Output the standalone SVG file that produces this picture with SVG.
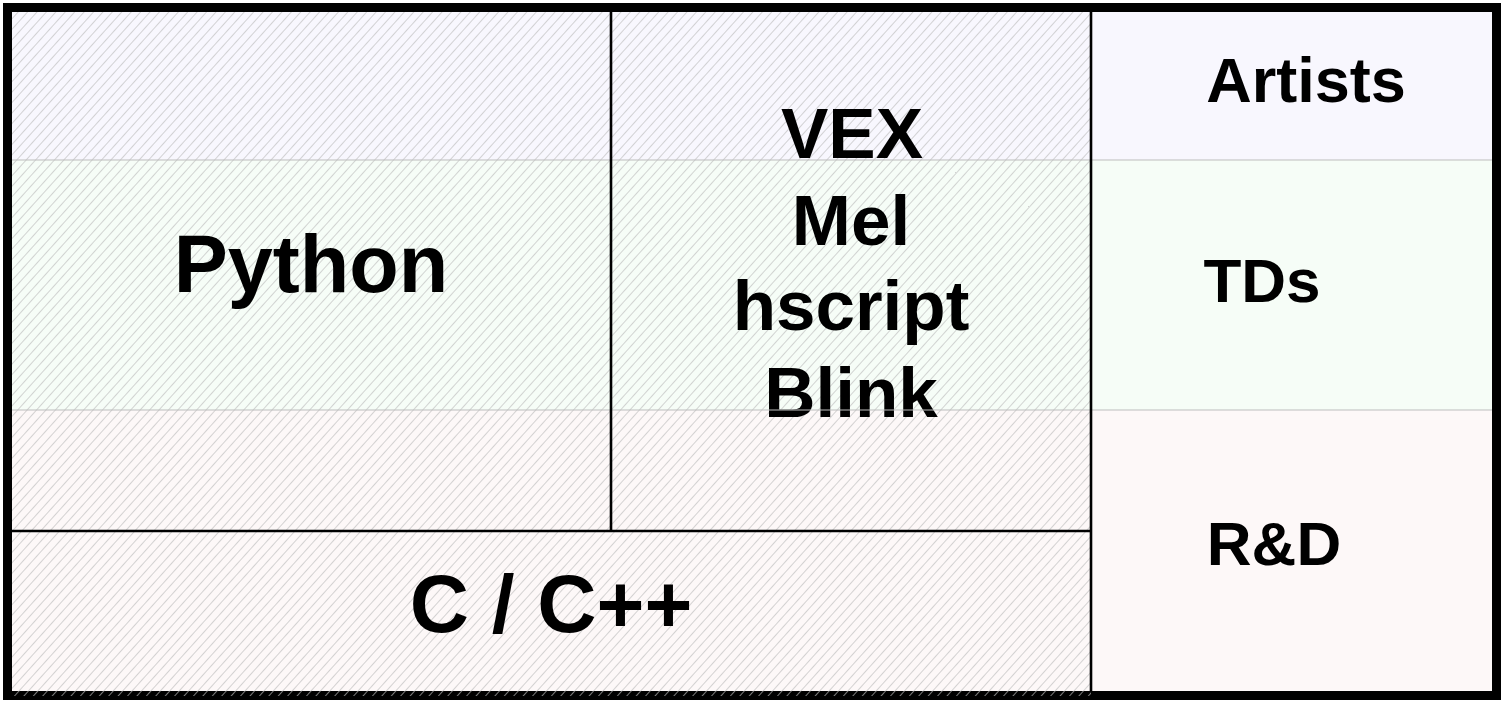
<svg xmlns="http://www.w3.org/2000/svg" width="1502" height="702" viewBox="0 0 1502 702">
<defs>
<pattern id="hatch" patternUnits="userSpaceOnUse" width="7" height="7" patternTransform="rotate(42)">
<line x1="0" y1="-1" x2="0" y2="8" stroke="#bdbdbd" stroke-width="1.3"/>
</pattern>
<style>
.lbl{font-family:"Liberation Sans",Arial,sans-serif;font-weight:bold;fill:#000;text-anchor:middle}
.band{stroke:#bdbdbd;stroke-width:1;fill:none}
.wall{stroke:#000;stroke-width:2.6;fill:none}
</style>
</defs>
<rect x="0" y="0" width="1502" height="702" fill="#fff"/>
<g id="bands">
<rect x="12" y="12" width="1480" height="148" fill="#f8f7fe"/>
<rect x="12" y="160" width="1480" height="250" fill="#f6fdf7"/>
<rect x="12" y="410" width="1480" height="281" fill="#fdf8f8"/>
</g>
<g id="python">
<rect x="12" y="12" width="599" height="518" fill="url(#hatch)"/>
<text class="lbl" x="311" y="292" font-size="81">Python</text>
</g>
<g id="vex">
<rect x="611" y="12" width="480" height="518" fill="url(#hatch)"/>
<text class="lbl" font-size="71" x="852" y="158">VEX</text>
<text class="lbl" font-size="71" x="851" y="245">Mel</text>
<text class="lbl" font-size="71" x="851" y="330">hscript</text>
<text class="lbl" font-size="71" x="851" y="417">Blink</text>
</g>
<g id="cpp">
<rect x="12" y="530" width="1079" height="161" fill="url(#hatch)"/>
<text class="lbl" x="551" y="632" font-size="82">C / C++</text>
</g>
<g id="connectors">
<line class="band" x1="12" y1="160" x2="1492" y2="160"/>
<line class="band" x1="12" y1="410" x2="1492" y2="410"/>
<line class="wall" x1="611" y1="12" x2="611" y2="530"/>
<line class="wall" x1="1091" y1="12" x2="1091" y2="691"/>
<line class="wall" x1="12" y1="531" x2="1091" y2="531"/>
</g>
<g id="artists"><text class="lbl" x="1306" y="102" font-size="63">Artists</text></g>
<g id="tds"><text class="lbl" x="1262" y="302" font-size="62">TDs</text></g>
<g id="rnd"><text class="lbl" x="1274" y="565" font-size="62">R&amp;D</text></g>
<g id="frame">
<rect x="7.5" y="7.5" width="1489" height="688" fill="none" stroke="#000" stroke-width="9"/>
<rect x="12" y="691" width="1079" height="5" fill="url(#hatch)"/>
</g>
</svg>
